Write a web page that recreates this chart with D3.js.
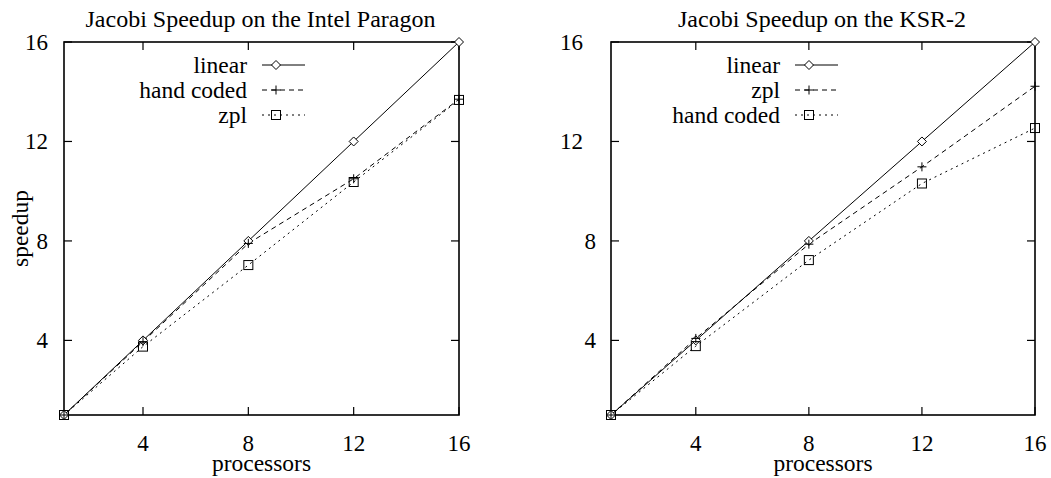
<!DOCTYPE html>
<html>
<head>
<meta charset="utf-8">
<script src="https://cdn.jsdelivr.net/npm/d3@7"></script>
<style>
  html, body { margin: 0; padding: 0; background: #fff; }
  svg { display: block; }
  text { font-family: "Liberation Serif", "DejaVu Serif", serif; fill: #000; }
</style>
</head>
<body>
<svg id="chart" width="1051" height="478"></svg>
<script>
// ---------------- data ----------------
const processors = [1, 4, 8, 12, 16];
const xTickValues = [4, 8, 12, 16];
const yTickValues = [4, 8, 12, 16];

const paragonTitle = "Jacobi Speedup on the Intel Paragon";
const paragonNames = ["linear", "hand coded", "zpl"];
const paragonLinear = [1, 4, 8, 12, 16];
const paragonHand = [1, 3.95, 7.9, 10.5, 13.7];
const paragonZpl = [1, 3.75, 7.03, 10.37, 13.67];

const ksrTitle = "Jacobi Speedup on the KSR-2";
const ksrNames = ["linear", "zpl", "hand coded"];
const ksrLinear = [1, 4, 8, 12, 16];
const ksrZpl = [1, 4.08, 7.87, 10.98, 14.22];
const ksrHand = [1, 3.77, 7.23, 10.31, 12.54];

const xLabel = "processors";
const yLabel = "speedup";

// ---------------- styles ----------------
const seriesStyles = [
  { dash: null, marker: "diamond" },
  { dash: "5,4", marker: "plus" },
  { dash: "2,4", marker: "square" }
];

const svg = d3.select("#chart");

function drawMarker(g, type, cx, cy) {
  if (type === "diamond") {
    const r = 4.5;
    g.append("path")
      .attr("d", `M${cx},${cy - r}L${cx + r},${cy}L${cx},${cy + r}L${cx - r},${cy}Z`)
      .attr("fill", "#fff").attr("stroke", "#000").attr("stroke-width", 1);
  } else if (type === "plus") {
    const r = 4.5;
    g.append("path")
      .attr("d", `M${cx - r},${cy}H${cx + r}M${cx},${cy - r}V${cy + r}`)
      .attr("fill", "none").attr("stroke", "#000").attr("stroke-width", 1);
  } else {
    const r = 4.5;
    g.append("rect")
      .attr("x", cx - r).attr("y", cy - r).attr("width", 2 * r).attr("height", 2 * r)
      .attr("fill", "none").attr("stroke", "#000").attr("stroke-width", 1);
  }
}

function drawPanel(cfg) {
  const x = d3.scaleLinear().domain([1, 16]).range([cfg.left, cfg.right]);
  const y = d3.scaleLinear().domain([1, 16]).range([cfg.bottom, cfg.top]);
  const g = svg.append("g");
  const tickLen = 8;

  // ticks (inward, mirrored)
  xTickValues.forEach(v => {
    g.append("line").attr("x1", x(v)).attr("x2", x(v))
      .attr("y1", cfg.bottom).attr("y2", cfg.bottom - tickLen)
      .attr("stroke", "#000").attr("stroke-width", 1.2);
    g.append("line").attr("x1", x(v)).attr("x2", x(v))
      .attr("y1", cfg.top).attr("y2", cfg.top + tickLen)
      .attr("stroke", "#000").attr("stroke-width", 1.2);
    g.append("text").attr("x", x(v)).attr("y", 451)
      .attr("text-anchor", "middle").attr("font-size", 23).text(v);
  });
  yTickValues.forEach(v => {
    g.append("line").attr("x1", cfg.left).attr("x2", cfg.left + tickLen)
      .attr("y1", y(v)).attr("y2", y(v))
      .attr("stroke", "#000").attr("stroke-width", 1.2);
    g.append("line").attr("x1", cfg.right).attr("x2", cfg.right - tickLen)
      .attr("y1", y(v)).attr("y2", y(v))
      .attr("stroke", "#000").attr("stroke-width", 1.2);
    const lbl = String(v);
    g.append("text")
      .attr("x", cfg.yLabelX + (lbl.length > 1 ? cfg.twoDigitShift : 0))
      .attr("y", y(v) + 8)
      .attr("text-anchor", "end").attr("font-size", 23).text(lbl);
  });

  // frame
  g.append("rect").attr("x", cfg.left).attr("y", cfg.top)
    .attr("width", cfg.right - cfg.left).attr("height", cfg.bottom - cfg.top)
    .attr("fill", "none").attr("stroke", "#000").attr("stroke-width", 1.6);

  // series
  const line = d3.line().x(d => x(d[0])).y(d => y(d[1]));
  cfg.series.forEach((vals, i) => {
    const st = seriesStyles[i];
    const pts = processors.map((p, j) => [p, vals[j]]);
    g.append("path").datum(pts).attr("d", line)
      .attr("fill", "none").attr("stroke", "#000").attr("stroke-width", 1)
      .attr("stroke-dasharray", st.dash);
  });
  cfg.series.forEach((vals, i) => {
    const st = seriesStyles[i];
    processors.forEach((p, j) => drawMarker(g, st.marker, x(p), y(vals[j])));
  });

  // legend
  const rowY = [65, 90, 115];
  cfg.names.forEach((name, i) => {
    const st = seriesStyles[i];
    g.append("text").attr("x", cfg.legTextX).attr("y", rowY[i] + 8)
      .attr("text-anchor", "end").attr("font-size", 23.5).text(name);
    g.append("line").attr("x1", cfg.legLine[0]).attr("x2", cfg.legLine[1])
      .attr("y1", rowY[i]).attr("y2", rowY[i])
      .attr("stroke", "#000").attr("stroke-width", 1)
      .attr("stroke-dasharray", st.dash);
    drawMarker(g, st.marker, cfg.legMarkX, rowY[i]);
  });

  // title
  g.append("text").attr("x", (cfg.left + cfg.right) / 2 - 1).attr("y", 27)
    .attr("text-anchor", "middle").attr("font-size", 24).text(cfg.title);

  // x label
  g.append("text").attr("x", (cfg.left + cfg.right) / 2).attr("y", 471)
    .attr("text-anchor", "middle").attr("font-size", 23.5).text(xLabel);

  if (cfg.showYLabel) {
    const cy = (cfg.top + cfg.bottom) / 2;
    g.append("text").attr("transform", `translate(28,${cy}) rotate(-90)`)
      .attr("text-anchor", "middle").attr("font-size", 23.5).text(yLabel);
  }
}

drawPanel({
  left: 64, right: 459, top: 42, bottom: 415,
  title: paragonTitle, names: paragonNames,
  series: [paragonLinear, paragonHand, paragonZpl],
  yLabelX: 48, twoDigitShift: 0,
  legTextX: 247, legLine: [262, 305], legMarkX: 276,
  showYLabel: true
});

drawPanel({
  left: 611, right: 1035, top: 42, bottom: 415,
  title: ksrTitle, names: ksrNames,
  series: [ksrLinear, ksrZpl, ksrHand],
  yLabelX: 596, twoDigitShift: -13,
  legTextX: 780, legLine: [795, 838], legMarkX: 809,
  showYLabel: false
});
</script>
</body>
</html>
